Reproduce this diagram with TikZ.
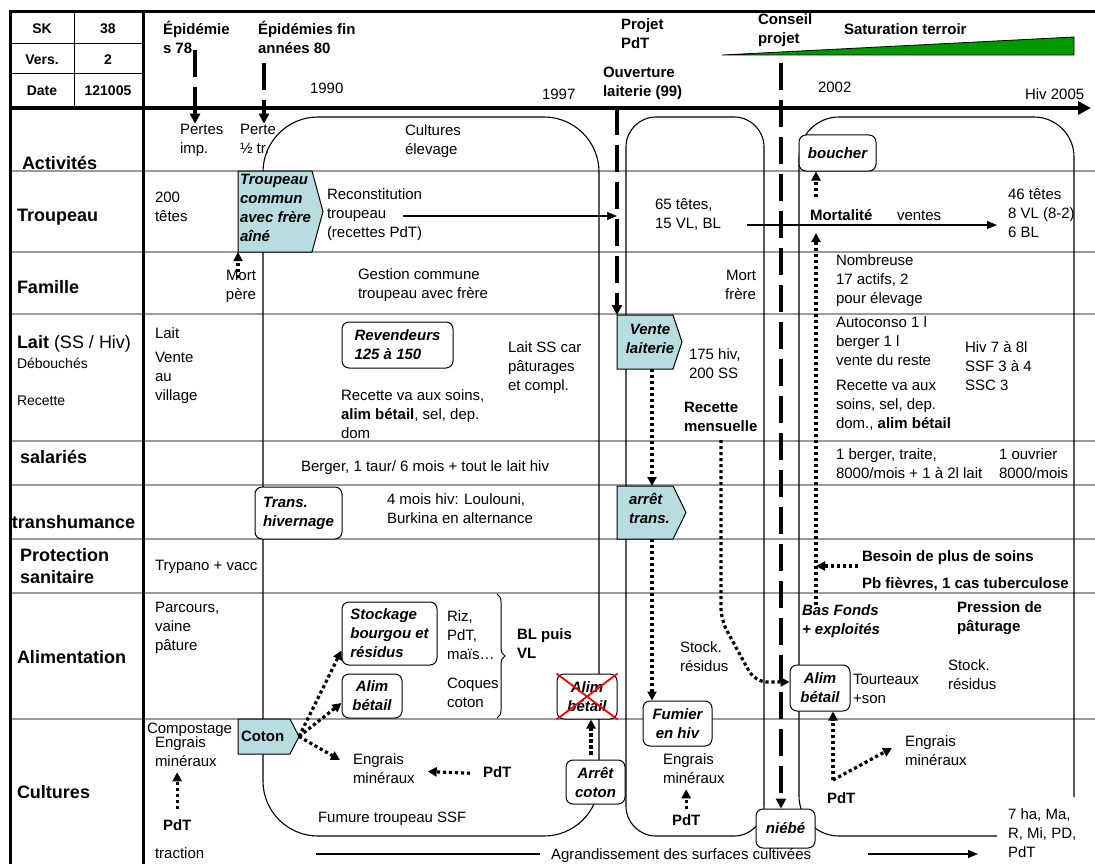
\documentclass[tikz,border=0pt]{standalone}
\usepackage{fontspec}
\setmainfont{Liberation Sans}
\usetikzlibrary{arrows.meta,decorations.pathreplacing}
\definecolor{cyanbox}{RGB}{183,221,225}
\definecolor{gridgray}{RGB}{155,155,155}
\definecolor{satgreen}{RGB}{0,153,0}
\begin{document}
\begin{tikzpicture}[x=1pt,y=-1pt,
  basetxt/.style={anchor=north west,inner sep=0pt,outer sep=0pt,align=left,execute at begin node=\strut},
  txt/.style={basetxt,font=\fontsize{15}{19}\selectfont,yshift=13.3pt},
  txtb/.style={txt,font=\fontsize{15}{19}\selectfont\bfseries},
  txtbi/.style={txt,font=\fontsize{15}{19}\selectfont\bfseries\itshape},
  lab/.style={basetxt,font=\fontsize{18}{22}\selectfont\bfseries,yshift=15.4pt},
  labn/.style={basetxt,font=\fontsize{18}{22}\selectfont,yshift=15.4pt},
  sm/.style={basetxt,font=\fontsize{14}{17}\selectfont,yshift=11.9pt},
  cell/.style={inner sep=0pt,font=\fontsize{14}{17}\selectfont\bfseries},
  bx/.style={draw,fill=white,rounded corners=7pt,line width=1pt,inner sep=0pt,align=center,font=\fontsize{15}{19}\selectfont\bfseries\itshape},
  sig/.style={draw,fill=cyanbox,line width=1pt},
  rowline/.style={gridgray,line width=1.3pt},
  frame/.style={line width=1.1pt,rounded corners=#1},
  dsh/.style={line width=3.2pt,dash pattern=on 27pt off 10pt,-{Triangle[length=10pt,width=10pt]}},
  dotarr/.style={line width=3.2pt,dash pattern=on 3.2pt off 2.8pt,-{Triangle[length=9pt,width=9pt]}},
  solarr/.style={line width=1.2pt,-{Triangle[length=10pt,width=8pt]}},
]
\useasboundingbox (0,0) rectangle (1095,864);

% row lines
\foreach \yy in {171,252,314,441,485,539,593,719} \draw[rowline] (10,\yy) -- (1095,\yy);

% period frames
\draw[frame=55pt] (263,117) rectangle (599,836);
\draw[frame=30pt] (626,117) rectangle (764,836);
\draw[frame=40pt] (997,836) -- (799,836) -- (799,117) -- (1074,117) -- (1074,797);

% table borders
\draw[line width=3pt] (10,12) -- (1095,12);
\draw[line width=3pt] (10,10.5) -- (10,864);
\draw[line width=3pt] (143,12) -- (143,864);
\draw[line width=1pt] (74,12) -- (74,108);
\draw[line width=1pt] (10,44) -- (143,44);
\draw[line width=1pt] (10,74) -- (143,74);
\draw[line width=3.5pt,-{Triangle[length=13pt,width=13pt]}] (10,108) -- (1091,108);

% saturation triangle
\draw[fill=satgreen,line width=0.8pt] (722,55) -- (1074,37) -- (1074,55) -- cycle;

% header cells
\node[cell] (sk) at (42,29) {SK};
\node[cell] (v38) at (108,29) {38};
\node[cell] (vers) at (42,60) {Vers.};
\node[cell] (v2) at (108,60) {2};
\node[cell] (date) at (42,91) {Date};
\node[cell] (vdate) at (108,91) {121005};

% header annotations
\node[txtb] (epi1) at (163,35) {Épidémie\\s 78};
\node[txtb] (epi2) at (258,35) {Épidémies fin\\années 80};
\node[txt] (y1990) at (310,94) {1990};
\node[txt] (y1997) at (542,100) {1997};
\node[txtb] (projet) at (621,32) {Projet\\PdT};
\node[txtb] (ouv) at (603,80) {Ouverture\\laiterie (99)};
\node[txtb] (conseil) at (758,27) {Conseil\\projet};
\node[txtb] (sat) at (844,35) {Saturation terroir};
\node[txt] (y2002) at (818,93) {2002};
\node[txt] (y2005) at (1025,100) {Hiv 2005};

% row labels
\node[lab] (lact) at (22,169) {Activités};
\node[lab] (ltrp) at (17,221) {Troupeau};
\node[lab] (lfam) at (17,293) {Famille};
\node[labn] (llait) at (17,348) {\textbf{Lait} (SS / Hiv)};
\node[sm] (ldeb) at (17,368) {Débouchés};
\node[sm] (lrec) at (17,405) {Recette};
\node[lab] (lsal) at (20,463) {salariés};
\node[lab] (ltra) at (12,528) {transhumance};
\node[lab] (lpro) at (20,564) {Protection\\sanitaire};
\node[lab] (lali) at (17,663) {Alimentation};
\node[lab] (lcul) at (17,798) {Cultures};

% signal shapes
\draw[sig] (238,171) -- (312,171) -- (323,211.5) -- (312,252) -- (238,252) coordinate (trsw) -- cycle;
\node[txtbi] (trp) at (240,187) {Troupeau\\commun\\avec frère\\aîné};
\draw[sig] (617,315) coordinate (vlnw) -- (673,315) -- (682,342) -- (673,369) -- (617,369) -- cycle;
\node[txtbi,anchor=north,align=center] (vl) at (650,337) {Vente\\laiterie};
\draw[sig] (617,486) -- (673,486) -- (686,512.5) -- (673,539) -- (617,539) -- cycle;
\node[txtbi] (at) at (629,507) {arrêt\\trans.};
\draw[sig] (238,719) -- (290,719) -- (299,736.5) coordinate (ct) -- (290,754) -- (238,754) -- cycle;
\node[txtb] (cot) at (241,741) {Coton};

% rounded boxes
\node[bx,minimum width=77pt,minimum height=36pt] (bou) at (837.5,153) {boucher};
\node[bx,minimum width=111pt,minimum height=46pt,align=left] (rev) at (397.5,345) {Revendeurs\\125 à 150};
\node[bx,minimum width=87pt,minimum height=52pt,align=left] (trh) at (298.5,513) {Trans.\\hivernage};
\node[bx,minimum width=95pt,minimum height=63pt,align=left] (stk) at (389.5,633.5) {Stockage\\bourgou et\\résidus};
\node[bx,minimum width=60pt,minimum height=44pt] (ab1) at (372,696) {Alim\\bétail};
\node[bx,minimum width=60pt,minimum height=45pt] (abx) at (587,696.5) {Alim\\bétail};
\draw[red,line width=1.8pt] (abx.north west) -- (abx.south east) (abx.south west) -- (abx.north east);
\node[bx,minimum width=59pt,minimum height=44pt] (arc) at (595.5,782) {Arrêt\\coton};
\node[bx,minimum width=69pt,minimum height=45pt] (fum) at (677.5,723.5) {Fumier\\en hiv};
\node[bx,minimum width=59pt,minimum height=39pt] (nb) at (785.5,828.5) {niébé};
\node[bx,minimum width=60pt,minimum height=46pt] (ab2) at (820,688) {Alim\\bétail};

% brace
\draw[decorate,decoration={brace,amplitude=8pt},line width=1pt] (497,594) -- (497,718);

% body texts
\node[txt] (pertes) at (180,137) {Pertes\\imp.};
\node[txt] (perte) at (240,137) {Perte\\½ tr.};
\node[txt] (cultel) at (405,138) {Cultures\\élevage};
\node[txt] (t200) at (155,205) {200\\têtes};
\node[txt] (recon) at (327,202) {Reconstitution\\troupeau\\(recettes PdT)};
\node[txt] (t65) at (655,212) {65 têtes,\\15 VL, BL};
\node[txtb] (mortal) at (810,220) {Mortalité};
\node[txt] (ventes) at (897,220) {ventes};
\node[txt] (t46) at (1008,202) {46 têtes\\8 VL (8-2)\\6 BL};
\node[txt,anchor=north east,align=right] (mortp) at (256,283) {Mort\\père};
\node[txt] (gest) at (358,282) {Gestion commune\\troupeau avec frère};
\node[txt,anchor=north east,align=right] (mortf) at (756,283) {Mort\\frère};
\node[txt] (nomb) at (836,268) {Nombreuse\\17 actifs, 2\\pour élevage};
\node[txt] (laitv) at (155,338) {Lait};
\node[txt] (vente) at (155,365) {Vente\\au\\village};
\node[txt] (laitss) at (508,355) {Lait SS car\\pâturages\\et compl.};
\node[txt] (recva) at (341,403) {Recette va aux soins,\\\textbf{alim bétail}, sel, dep.\\dom};
\node[txt] (h175) at (689,362) {175 hiv,\\200 SS};
\node[txtb] (recm) at (684,415) {Recette\\mensuelle};
\node[txt] (auto) at (836,330) {Autoconso 1 l\\berger 1 l\\vente du reste};
\node[txt] (recva2) at (836,393) {Recette va aux\\soins, sel, dep.\\dom., \textbf{alim bétail}};
\node[txt] (hiv7) at (965,355) {Hiv 7 à 8l\\SSF 3 à 4\\SSC 3};
\node[txt] (berger) at (301,471) {Berger, 1 taur/ 6 mois + tout le lait hiv};
\node[txt] (berger2) at (836,462) {1 berger, traite,\\8000/mois + 1 à 2l lait};
\node[txt] (ouvr) at (999,462) {1 ouvrier\\8000/mois};
\node[txt] (mois4) at (387,507) {4 mois hiv: Loulouni,\\Burkina en alternance};
\node[txt] (tryp) at (155,570) {Trypano + vacc};
\node[txtb] (besoin) at (862,561) {Besoin de plus de soins};
\node[txtb] (pb) at (862,588) {Pb fièvres, 1 cas tuberculose};
\node[txt] (parc) at (155,615) {Parcours,\\vaine\\pâture};
\node[txt] (riz) at (447,624) {Riz,\\PdT,\\maïs…};
\node[txt] (coq) at (447,691) {Coques\\coton};
\node[txtb] (blvl) at (517,642) {BL puis\\VL};
\node[txt] (stock1) at (680,655) {Stock.\\résidus};
\node[txtbi] (basf) at (802,618) {Bas Fonds\\+ exploités};
\node[txtb] (press) at (957,615) {Pression de\\pâturage};
\node[txt] (tourt) at (853,687) {Tourteaux\\+son};
\node[txt] (stock2) at (948,673) {Stock.\\résidus};
\node[txt] (compo) at (147,733) {Compostage};
\node[txt] (engr1) at (155,750) {Engrais\\minéraux};
\node[txtb] (pdt1) at (163,830) {PdT};
\node[txt] (tract) at (155,858) {traction};
\node[txt] (engr2) at (353,767) {Engrais\\minéraux};
\node[txtb] (pdt2) at (483,777) {PdT};
\node[txt] (fumure) at (318,822) {Fumure troupeau SSF};
\node[txt] (engr3) at (663,767) {Engrais\\minéraux};
\node[txtb] (pdt3) at (672,825) {PdT};
\node[txt] (engr4) at (905,749) {Engrais\\minéraux};
\node[txtb] (pdt4) at (827,803) {PdT};
\node[txt] (ha7) at (1008,822) {7 ha, Ma,\\R, Mi, PD,\\PdT};
\node[txt] (agr) at (551,859) {Agrandissement des surfaces cultivées};

% coordinates for free ends
\coordinate (ep1) at (195,50);
\coordinate (ep2) at (264,63);
\coordinate (ou1) at (617,108);
\coordinate (co1) at (781,63);
\coordinate (rc1) at (403,216);
\coordinate (l65) at (747,225);
\coordinate (l46) at (997,225);
\coordinate (mp1) at (238,278);
\coordinate (mo1) at (816,197);
\coordinate (bf2) at (816,233);
\coordinate (bs1) at (858,566);
\coordinate (vlb) at (652,369);
\coordinate (atn) at (652,486);
\coordinate (atb) at (652,539);
\coordinate (rm1) at (721,440);
\coordinate (rm2) at (721,620);
\coordinate (rm3) at (755,682);
\coordinate (ce) at (340,760);
\coordinate (p4) at (833,780);
\coordinate (e4) at (892,748);
\coordinate (ag1) at (316,854);
\coordinate (ag1e) at (540,854);
\coordinate (ag2) at (868,854);
\coordinate (ag3) at (978,854);

% dashed event lines
\draw[dsh] (ep1) -- (pertes.north -| ep1);
\draw[dsh] (ep2) -- (perte.north -| ep2);
\draw[dsh] (ou1) -- (vlnw);
\draw[dsh] (co1) -- (nb.north -| co1);

% solid arrows
\draw[solarr] (rc1) -- (ou1 |- rc1);
\draw[solarr] (l65) -- (l46);
\draw[line width=1.2pt] (ag1) -- (ag1e);
\draw[solarr] (ag2) -- (ag3);

% dotted arrows
\draw[dotarr] (mp1) -- (trsw);
\draw[dotarr] (mo1) -- (bou.south -| mo1);
\draw[dotarr] (basf.north -| mo1) -- (bf2);
\draw[dotarr] (bs1) -- (bs1 -| mo1);
\draw[dotarr] (vlb) -- (atn);
\draw[dotarr] (atb) -- (fum.north -| atb);
\draw[dotarr,rounded corners=12pt] (rm1) -- (rm2) -- (rm3) -- (ab2.west |- rm3);
\draw[dotarr] (ct) -- ([yshift=15pt]stk.south west);
\draw[dotarr] (ct) -- ([yshift=-7pt]ab1.west);
\draw[dotarr] (ct) -- (ce);
\draw[dotarr] ([xshift=-13pt]pdt2.west) -- ([xshift=13pt]engr2.east);
\draw[dotarr] ([yshift=8pt]pdt1.north) -- (pdt1.north |- engr1.south);
\draw[dotarr] ([xshift=-4.5pt,yshift=5pt]arc.north) -- ([xshift=4pt]abx.south);
\draw[dotarr] ([yshift=3pt]pdt3.north) -- (pdt3.north |- engr3.south);
\draw[dotarr] (p4) -- (ab2.south -| p4);
\draw[dotarr] (p4) -- (e4);
\end{tikzpicture}
\end{document}
